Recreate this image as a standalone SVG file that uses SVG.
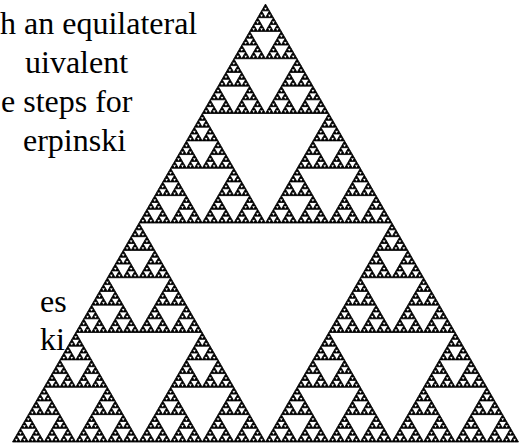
<svg xmlns="http://www.w3.org/2000/svg" xmlns:xlink="http://www.w3.org/1999/xlink" width="530" height="447" viewBox="0 0 530 447">
  <style>
    .txt { font-family: 'Liberation Serif', 'Times New Roman', Times, 'DejaVu Serif', serif; font-size: 32px; fill: #000; }
    .tri { fill: #000; stroke: #000; stroke-width: 0.8; stroke-linejoin: miter; }
  </style>
  <defs>
    <polygon id="t0" class="tri" points="0,3.421875 1.9765625,0 3.953125,3.421875"/>
    <g id="t1"><use xlink:href="#t0" href="#t0" x="1.9765625" y="0"/><use xlink:href="#t0" href="#t0" x="0" y="3.421875"/><use xlink:href="#t0" href="#t0" x="3.953125" y="3.421875"/></g>
    <g id="t2"><use xlink:href="#t1" href="#t1" x="3.953125" y="0"/><use xlink:href="#t1" href="#t1" x="0" y="6.84375"/><use xlink:href="#t1" href="#t1" x="7.90625" y="6.84375"/></g>
    <g id="t3"><use xlink:href="#t2" href="#t2" x="7.90625" y="0"/><use xlink:href="#t2" href="#t2" x="0" y="13.6875"/><use xlink:href="#t2" href="#t2" x="15.8125" y="13.6875"/></g>
    <g id="t4"><use xlink:href="#t3" href="#t3" x="15.8125" y="0"/><use xlink:href="#t3" href="#t3" x="0" y="27.375"/><use xlink:href="#t3" href="#t3" x="31.625" y="27.375"/></g>
    <g id="t5"><use xlink:href="#t4" href="#t4" x="31.625" y="0"/><use xlink:href="#t4" href="#t4" x="0" y="54.75"/><use xlink:href="#t4" href="#t4" x="63.25" y="54.75"/></g>
    <g id="t6"><use xlink:href="#t5" href="#t5" x="63.25" y="0"/><use xlink:href="#t5" href="#t5" x="0" y="109.5"/><use xlink:href="#t5" href="#t5" x="126.5" y="109.5"/></g>
    <g id="t7"><use xlink:href="#t6" href="#t6" x="126.5" y="0"/><use xlink:href="#t6" href="#t6" x="0" y="219"/><use xlink:href="#t6" href="#t6" x="253" y="219"/></g>
  </defs>
  <rect width="530" height="447" fill="#fff"/>
  <g id="text">
    <text class="txt" x="0" y="34" font-family="Liberation Serif, Times New Roman, serif">h an equilateral</text>
    <text class="txt" x="25" y="73" font-family="Liberation Serif, Times New Roman, serif">uivalent</text>
    <text class="txt" x="1" y="112" font-family="Liberation Serif, Times New Roman, serif">e steps for</text>
    <text class="txt" x="23" y="151" font-family="Liberation Serif, Times New Roman, serif">erpinski</text>
    <text class="txt" x="40" y="312" font-family="Liberation Serif, Times New Roman, serif">es</text>
    <text class="txt" x="40" y="350" font-family="Liberation Serif, Times New Roman, serif">ki</text>
  </g>
  <g id="sierpinski">
    <use xlink:href="#t7" href="#t7" x="12.5" y="4"/>
  </g>
</svg>
